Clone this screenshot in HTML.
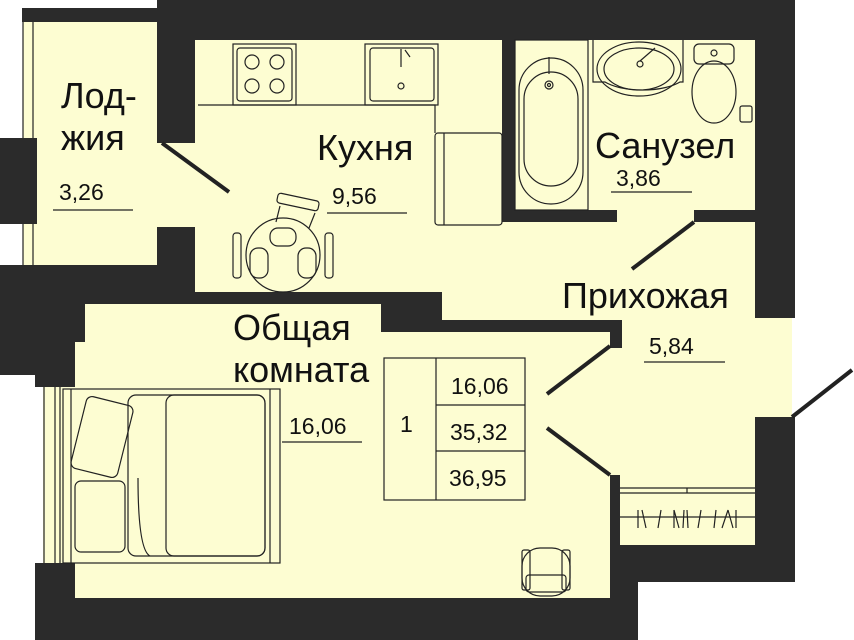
<!DOCTYPE html>
<html><head><meta charset="utf-8"><style>
html,body{margin:0;padding:0;background:#fff;}
svg{display:block}
text{font-family:"Liberation Sans",sans-serif;fill:#111}
</style></head><body>
<svg width="854" height="640" viewBox="0 0 854 640" xmlns="http://www.w3.org/2000/svg">
<g fill="#2b2b2b">
<rect x="22" y="8" width="140" height="14"/>
<rect x="157" y="0" width="638" height="40"/>
<rect x="157" y="0" width="38" height="143"/>
<rect x="0" y="138" width="37" height="86"/>
<rect x="157" y="227" width="38" height="78"/>
<rect x="0" y="265" width="195" height="40"/>
<rect x="195" y="292" width="190" height="12"/>
<rect x="381" y="282" width="61" height="60"/>
<rect x="440" y="320" width="182" height="12"/>
<rect x="610" y="320" width="12" height="28"/>
<rect x="0" y="280" width="85" height="75"/>
<rect x="0" y="355" width="75" height="20"/>
<rect x="35" y="375" width="40" height="12"/>
<rect x="35" y="563" width="40" height="77"/>
<rect x="35" y="598" width="603" height="42"/>
<rect x="598" y="545" width="40" height="95"/>
<rect x="608" y="475" width="12" height="75"/>
<rect x="608" y="545" width="187" height="37"/>
<rect x="755" y="40" width="40" height="278"/>
<rect x="755" y="417" width="40" height="165"/>
<rect x="502" y="40" width="13" height="182"/>
<rect x="502" y="210" width="115" height="12"/>
<rect x="694" y="210" width="101" height="12"/>
</g>
<g fill="#fdfdd2">
<rect x="37" y="22" width="120" height="243"/>
<rect x="157" y="143" width="38" height="84"/>
<rect x="195" y="40" width="307" height="252"/>
<rect x="515" y="40" width="240" height="170"/>
<rect x="195" y="222" width="560" height="70"/>
<rect x="442" y="282" width="313" height="38"/>
<rect x="622" y="320" width="133" height="225"/>
<rect x="755" y="318" width="37" height="99"/>
<rect x="620" y="417" width="135" height="128"/>
<rect x="617" y="210" width="77" height="12"/>
<rect x="85" y="304" width="296" height="60"/>
<rect x="75" y="342" width="533" height="256"/>
<rect x="381" y="332" width="229" height="266"/>
<rect x="605" y="348" width="20" height="127"/>
<rect x="23" y="22" width="14" height="116"/>
<rect x="23" y="224" width="14" height="41"/>
<rect x="43" y="387" width="32" height="176"/>
</g>
<g fill="none" stroke="#222" stroke-width="1.2">
<line x1="23" y1="22" x2="23" y2="138"/><line x1="33" y1="22" x2="33" y2="138"/>
<line x1="23" y1="224" x2="23" y2="265"/><line x1="33" y1="224" x2="33" y2="265"/>
<line x1="44" y1="387" x2="44" y2="563"/><line x1="55" y1="387" x2="55" y2="563"/><line x1="60" y1="387" x2="60" y2="563"/>
<polyline points="198,105 435,105 435,133"/>
<rect x="435" y="133" width="67" height="92" rx="3"/>
<line x1="444" y1="133" x2="444" y2="225"/>
<rect x="233" y="44" width="63" height="61"/><rect x="237" y="48" width="55" height="53" rx="3"/>
<circle cx="252" cy="62" r="7"/><circle cx="277" cy="62" r="7"/><circle cx="252" cy="86" r="7"/><circle cx="277" cy="86" r="7"/>
<rect x="365" y="44" width="73" height="61"/><rect x="370" y="48" width="64" height="53" rx="3"/>
<line x1="401" y1="49" x2="401" y2="67"/><line x1="405" y1="50" x2="410" y2="57"/><circle cx="401" cy="86" r="3"/>
<circle cx="283" cy="255" r="37"/>
<rect x="277" y="197" width="42" height="10" rx="3" transform="rotate(12 298 202)"/>
<line x1="280" y1="206" x2="276" y2="222"/><line x1="315" y1="213" x2="309" y2="228"/>
<rect x="270" y="228" width="26" height="18" rx="8"/>
<rect x="250" y="248" width="18" height="30" rx="8"/><rect x="298" y="248" width="18" height="30" rx="8"/>
<rect x="233" y="233" width="8" height="45" rx="3"/><rect x="325" y="233" width="8" height="45" rx="3"/>
<rect x="515" y="40" width="73" height="170"/>
<rect x="519" y="58" width="64" height="146" rx="32"/>
<rect x="524" y="72" width="54" height="114" rx="27"/>
<line x1="549" y1="57" x2="549" y2="74"/><circle cx="549" cy="85" r="4"/><circle cx="549" cy="85" r="1.5"/>
<path d="M593,40 L593,82 L605,82 A45,18 0 0 0 680,82 L683,82 L683,40"/>
<ellipse cx="639" cy="69" rx="42" ry="27"/><ellipse cx="639" cy="69" rx="35" ry="21"/>
<line x1="640" y1="61" x2="655" y2="48"/><circle cx="640" cy="64" r="3"/>
<rect x="694" y="44" width="40" height="20" rx="5"/><circle cx="714" cy="53" r="3"/>
<ellipse cx="714" cy="92" rx="22" ry="31"/>
<rect x="740" y="106" width="12" height="16" rx="2"/>
<rect x="63" y="389" width="217" height="174"/>
<line x1="71" y1="389" x2="71" y2="563"/><line x1="270" y1="389" x2="270" y2="563"/>
<rect x="128" y="395" width="137" height="161" rx="8"/>
<rect x="166" y="395" width="99" height="161" rx="8"/>
<path d="M138,478 Q138,550 150,556"/>
<rect x="78" y="400" width="48" height="74" rx="6" transform="rotate(14 102 437)"/>
<rect x="75" y="481" width="50" height="71" rx="6"/>
<rect x="522" y="548" width="48" height="48" rx="18"/>
<rect x="526" y="575" width="40" height="17" rx="3"/>
<rect x="522" y="550" width="8" height="40" rx="2"/><rect x="562" y="550" width="8" height="40" rx="2"/>
<line x1="620" y1="488" x2="755" y2="488"/><line x1="620" y1="493" x2="755" y2="493"/>
<line x1="687" y1="488" x2="687" y2="493"/>
<line x1="620" y1="517" x2="755" y2="517"/>
<path d="M638,510 L638,528 M642,510 L646,528 M661,510 L658,528 M674,510 L674,528 M674,510 L679,528 M684,510 L683,528 M687,510 L688,528 M701,510 L698,528 M716,510 L714,528 M728,510 L722,528 M728,510 L733,528 M736,510 L736,528"/>
<rect x="384" y="358" width="141" height="142"/>
<line x1="436" y1="358" x2="436" y2="500"/>
<line x1="436" y1="405" x2="525" y2="405"/><line x1="436" y1="451" x2="525" y2="451"/>
<line x1="53" y1="210" x2="133" y2="210"/>
<line x1="327" y1="213" x2="407" y2="213"/>
<line x1="611" y1="192" x2="692" y2="192"/>
<line x1="644" y1="362" x2="725" y2="362"/>
<line x1="282" y1="442" x2="362" y2="442"/>
</g>
<g stroke="#222" stroke-width="4" fill="none">
<line x1="162" y1="143" x2="229" y2="192"/>
<line x1="694" y1="222" x2="632" y2="269"/>
<line x1="610" y1="346" x2="547" y2="394"/>
<line x1="547" y1="428" x2="610" y2="475"/>
<line x1="792" y1="417" x2="852" y2="370"/>
</g>
<text x="61" y="108" font-size="36">Лод-</text>
<text x="61" y="150" font-size="36">жия</text>
<text x="59" y="200" font-size="23">3,26</text>
<text x="317" y="160" font-size="36">Кухня</text>
<text x="332" y="204" font-size="23">9,56</text>
<text x="595" y="158" font-size="36">Санузел</text>
<text x="616" y="186" font-size="23">3,86</text>
<text x="562" y="308" font-size="36">Прихожая</text>
<text x="649" y="354" font-size="23">5,84</text>
<text x="233" y="340" font-size="36">Общая</text>
<text x="233" y="382" font-size="36">комната</text>
<text x="289" y="434" font-size="23">16,06</text>
<text x="400" y="432" font-size="23">1</text>
<text x="451" y="394" font-size="23">16,06</text>
<text x="450" y="440" font-size="23">35,32</text>
<text x="449" y="486" font-size="23">36,95</text>
</svg>
</body></html>
